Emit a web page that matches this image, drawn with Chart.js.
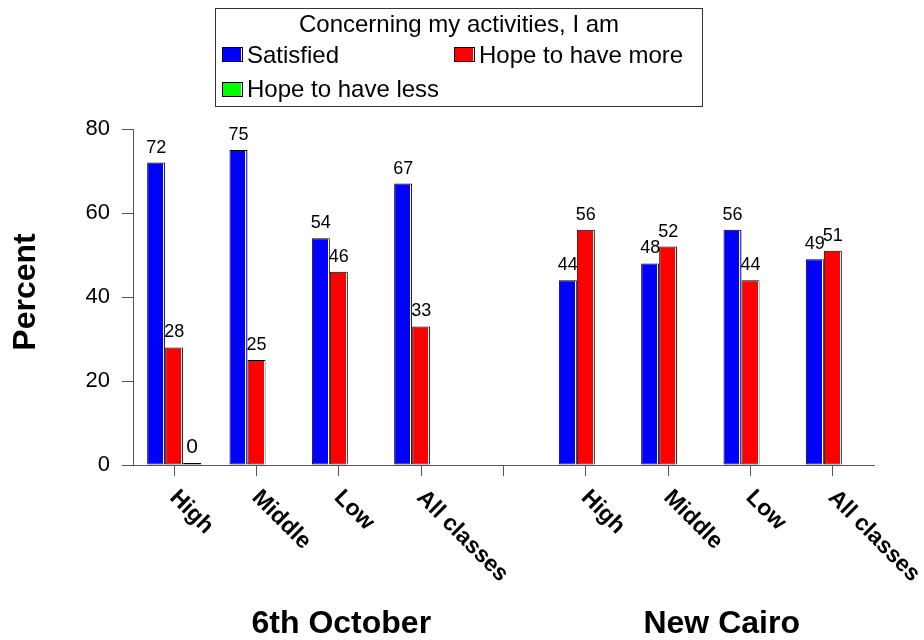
<!DOCTYPE html>
<html>
<head>
<meta charset="utf-8">
<script src="https://cdn.jsdelivr.net/npm/chart.js@4/dist/chart.umd.min.js"></script>
<style>
  html, body { margin: 0; padding: 0; background: #fff; }
  #wrap { width: 924px; height: 640px; }
</style>
</head>
<body>
<div id="wrap"><canvas id="chart" width="924" height="640"></canvas></div>
<script>
// Survey results: satisfaction with activities, by class and district
const categories = ['High', 'Middle', 'Low', 'All classes', '', 'High', 'Middle', 'Low', 'All classes'];
const satisfied  = [72, 75, 54, 67, null, 44, 48, 56, 49];
const hopeMore   = [28, 25, 46, 33, null, 56, 52, 44, 51];
const hopeLess   = [0, null, null, null, null, null, null, null, null];
const seriesNames = ['Satisfied', 'Hope to have more', 'Hope to have less'];
const legendTitle = 'Concerning my activities, I am';
const yTickValues = [0, 20, 40, 60, 80];
const districtNames = ['6th October', 'New Cairo'];

const FONT = '"Liberation Sans", Arial, Helvetica, sans-serif';
const AXIS_GREY = '#555555';

// Legend box with title and two-column swatches
const boxLegend = {
  id: 'boxLegend',
  afterDraw(chart) {
    const ctx = chart.ctx;
    const box = { x: 215.5, y: 8.5, w: 487, h: 98 };
    ctx.save();
    ctx.strokeStyle = '#333';
    ctx.lineWidth = 1;
    ctx.strokeRect(box.x, box.y, box.w, box.h);
    ctx.fillStyle = '#000';
    ctx.font = '24px ' + FONT;
    ctx.textAlign = 'center';
    ctx.textBaseline = 'alphabetic';
    ctx.fillText(legendTitle, box.x + box.w / 2, 32);
    const slots = [
      { x: 222, y: 47, base: 63 },
      { x: 454, y: 47, base: 63 },
      { x: 222, y: 82, base: 97 }
    ];
    ctx.textAlign = 'left';
    chart.data.datasets.forEach((ds, i) => {
      const s = slots[i];
      ctx.fillStyle = ds.backgroundColor;
      ctx.fillRect(s.x, s.y, 21, 15);
      ctx.fillStyle = '#fff';
      ctx.fillRect(s.x + 19, s.y + 1, 1, 13);
      ctx.strokeStyle = '#000';
      ctx.strokeRect(s.x + 0.5, s.y + 0.5, 20, 14);
      ctx.fillStyle = '#000';
      ctx.fillText(ds.label, s.x + 25, s.base);
    });
    ctx.restore();
  }
};

// Value labels above bars, plus a light inner edge on each bar
const barDecor = {
  id: 'barDecor',
  afterDatasetsDraw(chart) {
    const ctx = chart.ctx;
    ctx.save();
    chart.data.datasets.forEach((ds, di) => {
      const meta = chart.getDatasetMeta(di);
      meta.data.forEach((el, i) => {
        const v = ds.data[i];
        if (v === null || v === undefined) return;
        const h = el.base - el.y;
        if (h > 4) {
          ctx.fillStyle = '#ffffff';
          ctx.fillRect(Math.round(el.x + el.width / 2) - 2, el.y + 1, 1, h - 1);
        }
        ctx.fillStyle = '#000';
        ctx.font = (v === 0 ? '21px ' : '18px ') + FONT;
        ctx.textAlign = 'center';
        ctx.textBaseline = 'alphabetic';
        ctx.fillText(String(v), el.x, el.y - 10);
      });
    });
    ctx.restore();
  }
};

// Slanted category labels, district names and the vertical axis title
const axisText = {
  id: 'axisText',
  afterDraw(chart) {
    const ctx = chart.ctx;
    const xs = chart.scales.x;
    const area = chart.chartArea;
    ctx.save();
    ctx.fillStyle = '#000';
    ctx.font = 'bold 23px ' + FONT;
    ctx.textAlign = 'left';
    ctx.textBaseline = 'middle';
    categories.forEach((label, i) => {
      if (!label) return;
      const x = xs.getPixelForTick(i);
      ctx.save();
      ctx.translate(x - 1, area.bottom + 29);
      ctx.rotate(Math.PI / 4);
      ctx.fillText(label, 0, 0);
      ctx.restore();
    });
    ctx.font = 'bold 32px ' + FONT;
    ctx.textAlign = 'center';
    ctx.textBaseline = 'alphabetic';
    const centers = [2.03, 6.65];
    districtNames.forEach((name, i) => {
      ctx.fillText(name, xs.getPixelForValue(centers[i]), 633);
    });
    ctx.save();
    ctx.translate(35, (area.top + area.bottom) / 2 - 5);
    ctx.rotate(-Math.PI / 2);
    ctx.fillText('Percent', 0, 0);
    ctx.restore();
    ctx.restore();
  }
};

const barCommon = {
  borderColor: '#000000',
  borderWidth: 1,
  borderSkipped: false,
  categoryPercentage: 0.656,
  barPercentage: 1.0
};

new Chart(document.getElementById('chart'), {
  type: 'bar',
  data: {
    labels: categories,
    datasets: [
      Object.assign({ label: seriesNames[0], data: satisfied, backgroundColor: '#0000ff' }, barCommon),
      Object.assign({ label: seriesNames[1], data: hopeMore, backgroundColor: '#ff0000' }, barCommon),
      Object.assign({ label: seriesNames[2], data: hopeLess, backgroundColor: '#00ff00', minBarLength: 2 }, barCommon)
    ]
  },
  options: {
    responsive: false,
    animation: false,
    devicePixelRatio: 1,
    layout: { padding: { top: 129, left: 0, right: 50, bottom: 0 } },
    plugins: {
      legend: { display: false },
      tooltip: { enabled: false }
    },
    scales: {
      x: {
        offset: true,
        grid: { offset: false, drawOnChartArea: false, drawTicks: true, tickLength: 11, color: AXIS_GREY },
        border: { display: true, color: AXIS_GREY, width: 1 },
        ticks: { display: false },
        afterFit(scale) { scale.height = 175; }
      },
      y: {
        min: 0,
        max: 80,
        afterBuildTicks(scale) { scale.ticks = yTickValues.map(v => ({ value: v })); },
        grid: { drawOnChartArea: false, drawTicks: true, tickLength: 11, color: AXIS_GREY },
        border: { display: true, color: AXIS_GREY, width: 1 },
        ticks: { color: '#000', font: { family: FONT, size: 22 }, padding: 12 },
        afterFit(scale) { scale.width = 133; }
      }
    }
  },
  plugins: [boxLegend, barDecor, axisText]
});
</script>
</body>
</html>
